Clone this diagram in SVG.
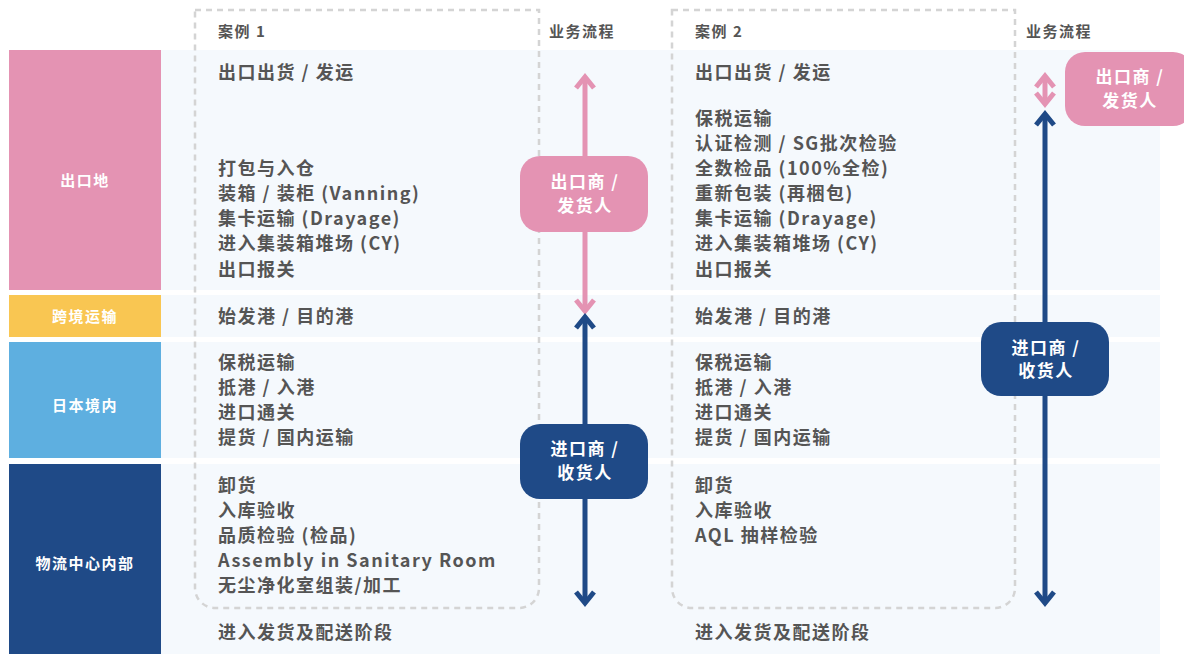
<svg xmlns="http://www.w3.org/2000/svg" width="1184" height="654" viewBox="0 0 1184 654">
<style>
.t{font-family:"Noto Sans CJK SC","Noto Sans",sans-serif;font-weight:700;font-size:18px;fill:#555555;letter-spacing:1.5px;dominant-baseline:central}
.h{font-family:"Noto Sans CJK SC","Noto Sans",sans-serif;font-weight:700;font-size:15px;fill:#555555;letter-spacing:1.5px;dominant-baseline:central}
.b{font-family:"Noto Sans CJK SC","Noto Sans",sans-serif;font-weight:700;font-size:15px;fill:#ffffff;letter-spacing:1.5px;text-anchor:middle;dominant-baseline:central}
.w{font-family:"Noto Sans CJK SC","Noto Sans",sans-serif;font-weight:700;font-size:17px;fill:#ffffff;letter-spacing:1.5px;text-anchor:middle;dominant-baseline:central}
.band{fill:#f5f9fd}
.dash{fill:none;stroke:#d4d4d4;stroke-width:2.5;stroke-dasharray:6 5}
.pk{stroke:#e493b3;stroke-width:5;fill:none;stroke-linejoin:miter}
.nv{stroke:#1f4a87;stroke-width:5;fill:none;stroke-linejoin:miter}
</style>
<rect width="1184" height="654" fill="#ffffff"/>
<g id="bands">
<rect class="band" x="161" y="50" width="999" height="240"/>
<rect class="band" x="161" y="295" width="999" height="42"/>
<rect class="band" x="161" y="342" width="999" height="116"/>
<rect class="band" x="161" y="464" width="999" height="190"/>
</g>
<g id="stages">
<g id="stage-export"><rect x="9" y="50" width="152" height="240" fill="#e493b3"/><text class="b" x="85" y="179">出口地</text></g>
<g id="stage-cross"><rect x="9" y="295" width="152" height="42" fill="#f9c652"/><text class="b" x="85" y="315">跨境运输</text></g>
<g id="stage-japan"><rect x="9" y="342" width="152" height="116" fill="#5eafe0"/><text class="b" x="85" y="404">日本境内</text></g>
<g id="stage-dc"><rect x="9" y="464" width="152" height="190" fill="#1f4a87"/><text class="b" x="85" y="562">物流中心内部</text></g>
</g>
<g id="case1">
<path class="dash" d="M195,10 H539 V588 A20,20 0 0 1 519,608 H215 A20,20 0 0 1 195,588 Z"/>
<g transform="translate(0,-1)">
<text class="h" x="218" y="31">案例 1</text>
<text class="t" x="218" y="72">出口出货 / 发运</text>
<text class="t" x="218" y="168">打包与入仓</text>
<text class="t" x="218" y="193">装箱 / 装柜 (Vanning)</text>
<text class="t" x="218" y="218">集卡运输 (Drayage)</text>
<text class="t" x="218" y="243">进入集装箱堆场 (CY)</text>
<text class="t" x="218" y="269">出口报关</text>
<text class="t" x="218" y="316">始发港 / 目的港</text>
<text class="t" x="218" y="362">保税运输</text>
<text class="t" x="218" y="387">抵港 / 入港</text>
<text class="t" x="218" y="412">进口通关</text>
<text class="t" x="218" y="437">提货 / 国内运输</text>
<text class="t" x="218" y="485">卸货</text>
<text class="t" x="218" y="510">入库验收</text>
<text class="t" x="218" y="535">品质检验 (检品)</text>
<text class="t" x="218" y="560">Assembly in Sanitary Room</text>
<text class="t" x="218" y="585">无尘净化室组装/加工</text>
<text class="t" x="218" y="632">进入发货及配送阶段</text>
</g>
</g>
<g id="case2">
<path class="dash" d="M672,10 H1015 V588 A20,20 0 0 1 995,608 H692 A20,20 0 0 1 672,588 Z"/>
<g transform="translate(0,-1)">
<text class="h" x="695" y="31">案例 2</text>
<text class="t" x="695" y="72">出口出货 / 发运</text>
<text class="t" x="695" y="118">保税运输</text>
<text class="t" x="695" y="143">认证检测 / SG批次检验</text>
<text class="t" x="695" y="168">全数检品 (100%全检)</text>
<text class="t" x="695" y="193">重新包装 (再梱包)</text>
<text class="t" x="695" y="218">集卡运输 (Drayage)</text>
<text class="t" x="695" y="243">进入集装箱堆场 (CY)</text>
<text class="t" x="695" y="269">出口报关</text>
<text class="t" x="695" y="316">始发港 / 目的港</text>
<text class="t" x="695" y="362">保税运输</text>
<text class="t" x="695" y="387">抵港 / 入港</text>
<text class="t" x="695" y="412">进口通关</text>
<text class="t" x="695" y="437">提货 / 国内运输</text>
<text class="t" x="695" y="485">卸货</text>
<text class="t" x="695" y="510">入库验收</text>
<text class="t" x="695" y="535">AQL 抽样检验</text>
<text class="t" x="695" y="632">进入发货及配送阶段</text>
</g>
</g>
<g id="flow-headers">
<text class="h" x="549" y="30">业务流程</text>
<text class="h" x="1026" y="30">业务流程</text>
</g>
<g id="connectors">
<line class="pk" x1="585" y1="78" x2="585" y2="310"/>
<polyline class="pk" points="576,88 585,77 594,88"/>
<polyline class="pk" points="576,300 585,311 594,300"/>
<line class="nv" x1="585" y1="320" x2="585" y2="602"/>
<polyline class="nv" points="576,328 585,317 594,328"/>
<polyline class="nv" points="576,592 585,603 594,592"/>
<line class="pk" x1="1045" y1="80" x2="1045" y2="100"/>
<polyline class="pk" points="1036,87 1045,76 1054,87"/>
<polyline class="pk" points="1036,93 1045,104 1054,93"/>
<line class="nv" x1="1045" y1="116" x2="1045" y2="602"/>
<polyline class="nv" points="1036,125 1045,114 1054,125"/>
<polyline class="nv" points="1036,592 1045,603 1054,592"/>
</g>
<g id="exporter1"><rect x="520" y="156" width="128" height="76" rx="20" fill="#e493b3"/><text class="w" x="585" y="180">出口商 /</text><text class="w" x="585" y="204">发货人</text></g>
<g id="importer1"><rect x="520" y="424" width="128" height="75" rx="20" fill="#1f4a87"/><text class="w" x="585" y="447">进口商 /</text><text class="w" x="585" y="471">收货人</text></g>
<g id="exporter2"><rect x="1065" y="52" width="128" height="74" rx="20" fill="#e493b3"/><text class="w" x="1130" y="75">出口商 /</text><text class="w" x="1130" y="99">发货人</text></g>
<g id="importer2"><rect x="981" y="322" width="128" height="74" rx="20" fill="#1f4a87"/><text class="w" x="1046" y="346">进口商 /</text><text class="w" x="1046" y="369">收货人</text></g>
</svg>
